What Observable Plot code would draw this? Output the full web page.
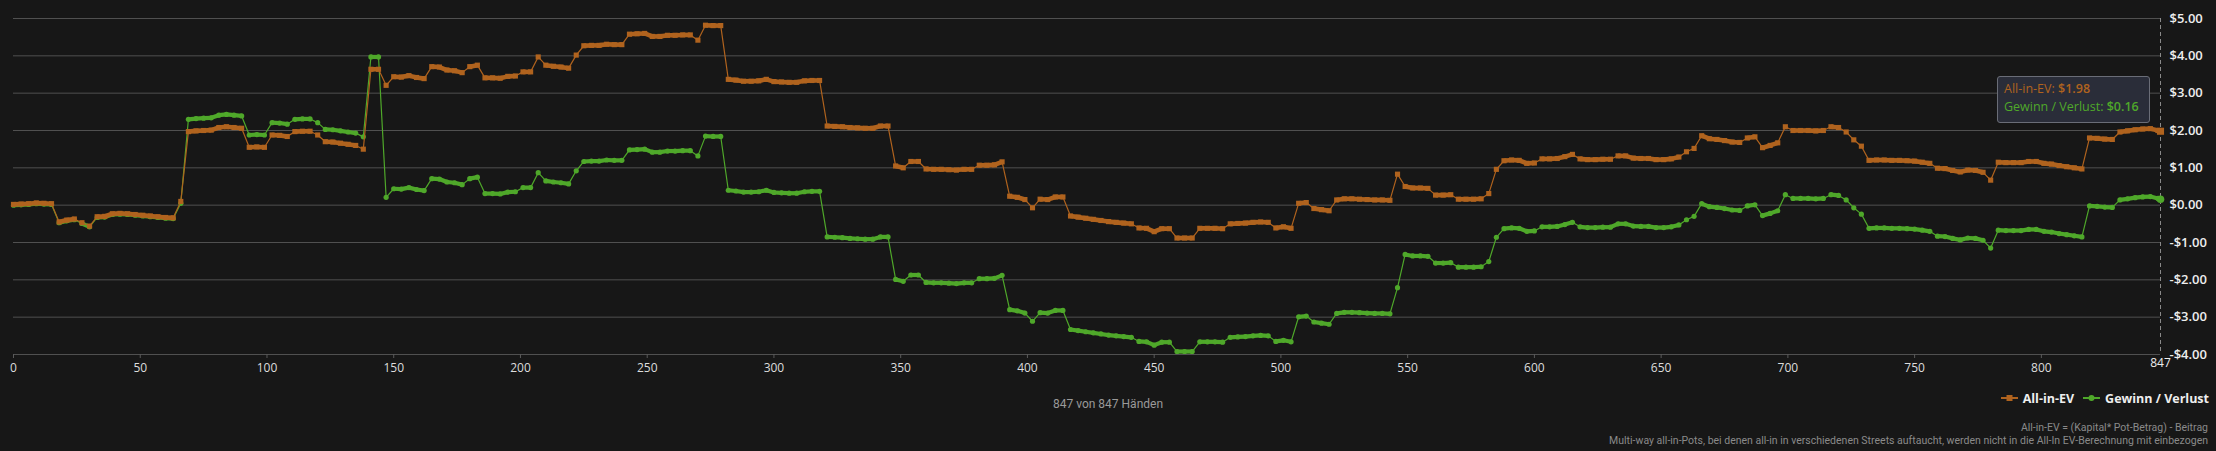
<!DOCTYPE html>
<html><head><meta charset="utf-8">
<script src="https://cdn.jsdelivr.net/npm/d3@7"></script>
<script src="https://cdn.jsdelivr.net/npm/@observablehq/plot@0.6"></script>
<style>
html,body{margin:0;padding:0;background:#171717;}
#wrap{position:relative;width:2216px;height:451px;overflow:hidden;background:#171717;font-family:"Open Sans",sans-serif;}
#wrap svg.plot{position:absolute;left:0;top:0;}
#tip{position:absolute;left:1997px;top:76px;width:145px;height:42px;padding:3px 0 0 6px;background:#2a2d39;border:1px solid #6a6d77;border-radius:3px;font-size:12.5px;line-height:18px;white-space:nowrap;}
#legend{position:absolute;right:7px;top:389px;height:18px;display:flex;align-items:center;font-weight:700;font-size:12.5px;color:#eeeeee;}
#legend .item{display:flex;align-items:center;margin-left:9px;}
#legend svg{margin-right:5px;}
#count{position:absolute;left:0;width:2216px;top:397px;text-align:center;font-family:Roboto,sans-serif;font-size:12px;color:#9a9a9a;}
#foot{position:absolute;right:8px;top:422px;text-align:right;font-family:Roboto,sans-serif;font-size:10.5px;line-height:12.5px;color:#8a8a8a;}
</style></head>
<body><div id="wrap"></div>
<script>
// ---- data -------------------------------------------------------------
const seriesNames = ["All-in-EV", "Gewinn / Verlust"];
const totalHands = 847;
// sampled every 3 hands (0,3,...,846) plus the last hand 847
const hands = d3.range(0, 847, 3).concat([847]);
const xTicks = [0,50,100,150,200,250,300,350,400,450,500,550,600,650,700,750,800];
const yTicks = [-4,-3,-2,-1,0,1,2,3,4,5];

const ev = [
 0.02,0.03,0.04,0.06,0.05,0.04,-0.45,-0.40,-0.37,-0.47,-0.56,-0.31,-0.30,-0.23,-0.22,-0.23,-0.25,-0.27,-0.29,-0.31,-0.33,-0.34,
 0.10,
 1.97,1.99,2.00,2.01,2.08,2.10,2.08,2.06,1.55,1.56,1.55,1.88,1.87,1.84,1.97,1.98,1.98,1.88,1.70,1.69,1.66,1.63,1.60,1.50,3.64,3.64,
 3.21,3.44,3.43,3.47,3.42,3.39,3.71,3.70,3.62,3.60,
 3.55,3.71,3.75,3.41,3.41,3.40,3.45,3.46,3.57,3.57,
 3.97,3.75,3.72,3.70,3.67,4.02,4.27,4.28,4.28,4.31,
 4.30,4.30,4.58,4.59,4.60,4.52,4.52,4.55,4.55,4.56,
 4.56,4.42,4.82,4.81,4.81,3.37,3.35,3.32,3.32,3.33,
 3.37,3.31,3.30,3.29,3.29,3.33,3.34,3.34,2.12,2.11,
 2.10,2.08,2.07,2.06,2.06,2.12,2.12,
 1.05,1.00,1.17,1.17,0.97,0.96,0.96,0.95,0.94,0.96,
 0.96,1.07,1.07,1.08,1.16,0.24,0.21,0.15,-0.07,0.16,
 0.15,0.22,0.22,-0.29,-0.32,-0.35,-0.38,-0.41,-0.44,-0.46,
 -0.48,-0.50,-0.61,-0.62,-0.71,-0.63,-0.63,-0.88,-0.88,-0.88,
 -0.62,-0.62,-0.62,-0.63,-0.50,-0.49,-0.48,-0.46,-0.45,-0.46,
 -0.61,-0.58,-0.62,0.05,0.07,-0.09,-0.12,-0.15,0.14,0.17,
 0.17,0.16,0.15,0.14,0.14,0.13,0.83,
 0.50,0.46,0.46,0.45,0.27,0.27,0.28,0.16,0.16,0.16,
 0.17,0.31,0.96,1.19,1.21,1.20,1.12,1.13,1.24,1.24,
 1.25,1.30,1.36,1.24,1.22,1.22,1.23,1.23,1.32,1.32,
 1.26,1.25,1.25,1.22,1.22,1.24,1.29,1.43,1.52,1.86,
 1.78,1.76,1.73,1.69,1.68,1.80,1.83,1.54,1.60,1.67,
 2.10,2.00,2.00,2.00,1.99,2.00,2.10,2.08,1.96,1.75,
 1.58,1.20,1.21,1.21,1.20,1.20,1.19,1.18,1.15,1.12,
 0.99,0.98,0.93,0.89,0.94,0.93,0.88,0.67,1.15,1.14,
 1.14,1.14,1.17,1.17,1.12,1.10,1.06,1.03,1.00,0.97,
 1.80,1.79,1.77,1.76,1.96,1.99,2.02,2.04,2.05,2.00,
 1.98
];

const net = [
 0.00,0.01,0.02,0.04,0.03,0.02,-0.47,-0.42,-0.39,-0.49,-0.58,-0.33,-0.32,-0.25,-0.24,-0.25,-0.27,-0.29,-0.31,-0.33,-0.35,-0.36,
 0.05,
 2.30,2.32,2.33,2.34,2.41,2.43,2.41,2.39,1.88,1.89,1.88,2.21,2.20,2.17,2.30,2.31,2.31,2.21,2.03,2.02,1.99,1.96,1.93,1.83,3.97,3.97,
 0.21,0.44,0.43,0.47,0.42,0.39,0.71,0.70,0.62,0.60,0.55,0.71,0.75,
 0.31,0.31,0.30,0.35,0.36,0.47,0.47,0.87,0.65,0.62,0.60,0.57,0.92,1.17,1.18,1.18,1.21,1.20,1.20,1.48,1.49,1.50,1.42,1.42,1.45,1.45,1.46,1.46,1.32,
 1.85,1.84,1.84,0.40,0.38,0.35,0.35,0.36,0.40,0.34,0.33,0.32,0.32,0.36,0.37,0.37,-0.85,-0.86,-0.87,-0.89,-0.90,-0.91,-0.91,-0.85,-0.85,
 -1.99,-2.04,-1.87,-1.87,-2.07,-2.08,-2.08,-2.09,-2.10,-2.08,
 -2.08,-1.97,-1.97,-1.96,-1.88,-2.80,-2.83,-2.89,-3.11,-2.88,
 -2.89,-2.82,-2.82,-3.33,-3.36,-3.39,-3.42,-3.45,-3.48,-3.50,
 -3.52,-3.54,-3.65,-3.66,-3.75,-3.67,-3.67,-3.92,-3.92,-3.92,
 -3.66,-3.66,-3.66,-3.67,-3.54,-3.53,-3.52,-3.50,-3.49,-3.50,
 -3.65,-3.62,-3.66,-2.99,-2.97,-3.13,-3.16,-3.19,-2.90,-2.87,
 -2.87,-2.88,-2.89,-2.90,-2.90,-2.91,-2.21,
 -1.32,-1.36,-1.36,-1.37,-1.55,-1.55,-1.54,-1.66,-1.66,-1.66,
 -1.65,-1.51,-0.86,-0.63,-0.61,-0.62,-0.70,-0.69,-0.58,-0.58,
 -0.57,-0.52,-0.46,-0.58,-0.60,-0.60,-0.59,-0.59,-0.50,-0.50,
 -0.56,-0.57,-0.57,-0.60,-0.60,-0.58,-0.53,-0.39,-0.30,0.04,
 -0.04,-0.06,-0.09,-0.13,-0.14,-0.02,0.01,-0.28,-0.22,-0.15,
 0.28,0.18,0.18,0.18,0.17,0.18,0.28,0.26,0.14,-0.07,
 -0.24,-0.62,-0.61,-0.61,-0.62,-0.62,-0.63,-0.64,-0.67,-0.70,
 -0.83,-0.84,-0.89,-0.93,-0.88,-0.89,-0.94,-1.15,-0.67,-0.68,
 -0.68,-0.68,-0.65,-0.65,-0.70,-0.72,-0.76,-0.79,-0.82,-0.85,
 -0.02,-0.03,-0.05,-0.06,0.14,0.17,0.20,0.22,0.23,0.18,
 0.16
];

const footerLines = [
 "All-in-EV = (Kapital* Pot-Betrag) - Beitrag",
 "Multi-way all-in-Pots, bei denen all-in in verschiedenen Streets auftaucht, werden nicht in die All-In EV-Berechnung mit einbezogen"
];

// ---- styling ----------------------------------------------------------
const ORANGE = "#b0631e";
const GREEN = "#4fa82a";
const fmtUsd = v => (v < 0 ? "-" : "") + "$" + Math.abs(v).toFixed(2);

const rows = hands.map((h, i) => ({h, ev: ev[i], net: net[i]}));
function flatSegs(key) {
  const s = [];
  for (let i = 0; i < rows.length - 1; i++) {
    const a = rows[i], b = rows[i + 1];
    if (Math.abs(b[key] - a[key]) <= 0.09) s.push({h1: a.h, h2: b.h, v1: a[key], v2: b[key]});
  }
  return s;
}
const last = rows[rows.length - 1];

const chart = Plot.plot({
  width: 2216, height: 385,
  marginLeft: 13, marginRight: 56, marginTop: 18, marginBottom: 31,
  style: {background: "transparent", color: "#dddddd", fontFamily: "Open Sans", fontSize: "12px", overflow: "visible"},
  x: {domain: [0, totalHands], axis: null},
  y: {domain: [-4, 5], axis: null},
  marks: [
    Plot.ruleY(yTicks, {stroke: "#505050", strokeWidth: 1}),
    Plot.axisX({ticks: xTicks, tickSize: 4, tickPadding: 5, tickFormat: d => String(d), stroke: "#5a5a5a", fill: "#dddddd", fontSize: 12}),
    Plot.axisY({anchor: "right", ticks: yTicks, tickSize: 0, tickPadding: 9, tickFormat: fmtUsd, fill: "#eeeeee", fontSize: 13, fontWeight: 600}),
    Plot.ruleX([totalHands], {stroke: "#8a8a8a", strokeWidth: 1, strokeDasharray: "4,3"}),
    Plot.text([totalHands], {x: d => d, y: -4, dy: 9, text: d => String(d), fill: "#eeeeee", fontSize: 12}),
    // Gewinn / Verlust
    Plot.line(rows, {x: "h", y: "net", stroke: GREEN, strokeWidth: 1.2}),
    Plot.link(flatSegs("net"), {x1: "h1", y1: "v1", x2: "h2", y2: "v2", stroke: GREEN, strokeWidth: 4.2}),
    Plot.dot(rows, {x: "h", y: "net", r: 2.6, fill: GREEN, symbol: "circle"}),
    // All-in-EV
    Plot.line(rows, {x: "h", y: "ev", stroke: ORANGE, strokeWidth: 1.2}),
    Plot.link(flatSegs("ev"), {x1: "h1", y1: "v1", x2: "h2", y2: "v2", stroke: ORANGE, strokeWidth: 4.6}),
    Plot.dot(rows, {x: "h", y: "ev", r: 2.9, fill: ORANGE, symbol: "square"}),
    // hovered point
    Plot.dot([last], {x: "h", y: "net", r: 3.8, fill: GREEN, symbol: "circle"}),
    Plot.dot([last], {x: "h", y: "ev", r: 4.0, fill: ORANGE, symbol: "square"})
  ]
});
chart.classList.add("plot");
const wrap = document.getElementById("wrap");
wrap.appendChild(chart);

// tooltip
const tip = document.createElement("div");
tip.id = "tip";
tip.innerHTML =
  `<div style="color:${ORANGE}">${seriesNames[0]}: <b style="font-weight:600">${fmtUsd(last.ev)}</b></div>` +
  `<div style="color:${GREEN}">${seriesNames[1]}: <b style="font-weight:600">${fmtUsd(last.net)}</b></div>`;
wrap.appendChild(tip);

// legend
const legend = document.createElement("div");
legend.id = "legend";
const markers = [
  `<svg width="17" height="10"><line x1="0" y1="5" x2="17" y2="5" stroke="${ORANGE}" stroke-width="2"/><rect x="5.5" y="2" width="6" height="6" fill="${ORANGE}"/></svg>`,
  `<svg width="17" height="10"><line x1="0" y1="5" x2="17" y2="5" stroke="${GREEN}" stroke-width="2"/><circle cx="8.5" cy="5" r="3" fill="${GREEN}"/></svg>`
];
seriesNames.forEach((n, i) => {
  const it = document.createElement("div");
  it.className = "item";
  it.innerHTML = markers[i] + `<span>${n}</span>`;
  legend.appendChild(it);
});
wrap.appendChild(legend);

// count
const cnt = document.createElement("div");
cnt.id = "count";
cnt.textContent = `${totalHands} von ${totalHands} Händen`;
wrap.appendChild(cnt);

// footer
const foot = document.createElement("div");
foot.id = "foot";
foot.innerHTML = footerLines.map(t => `<div>${t}</div>`).join("");
wrap.appendChild(foot);
</script>
</body></html>
